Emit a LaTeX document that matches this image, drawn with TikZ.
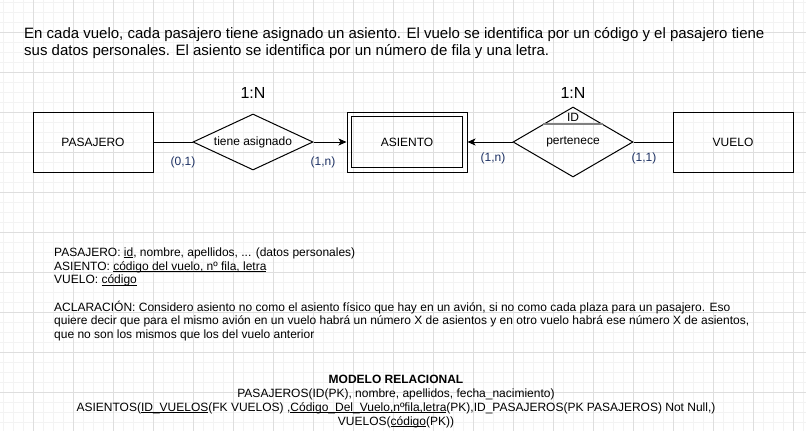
\documentclass[tikz,border=0pt]{standalone}
\usepackage{fontspec}
\setmainfont{Liberation Sans}
\newcommand{\undl}[1]{\setbox0\hbox{#1}\rlap{\rule[-1.8pt]{\wd0}{0.8pt}}\box0}
\usetikzlibrary{arrows.meta,shapes.geometric,calc}
\definecolor{gridmaj}{RGB}{222,222,222}
\definecolor{gridmin}{RGB}{243,243,243}
\definecolor{card}{RGB}{30,50,100}
\definecolor{idline}{RGB}{128,128,128}
\begin{document}
\begin{tikzpicture}[x=1pt,y=-1pt,
  entity/.style={draw,line width=1pt,minimum width=120pt,minimum height=60pt,inner sep=0pt,font=\fontsize{12}{14}\selectfont},
  rel/.style={draw,line width=1pt,diamond,aspect=2,inner sep=0pt,minimum width=120pt,font=\fontsize{12}{14}\selectfont},
  cardlbl/.style={text=card,inner sep=0pt,font=\fontsize{12}{14}\selectfont},
  ratio/.style={inner sep=0pt,font=\fontsize{16}{18}\selectfont},
  conn/.style={line width=1pt},
  arr/.style={conn,-{Stealth[length=8pt,width=7pt,inset=2pt]}},
  txt/.style={inner sep=0pt,align=left,anchor=base west}]
\useasboundingbox (0,0) rectangle (806,431);
\fill[white] (0,0) rectangle (806,431);
% grid
\foreach \x in {3,13,...,803}{\draw[gridmin,line width=1pt] (\x,0) -- (\x,431);}
\foreach \y in {2,12,...,432}{\draw[gridmin,line width=1pt] (0,\y) -- (806,\y);}
\foreach \x in {33,73,...,793}{\draw[gridmaj,line width=1pt] (\x,0) -- (\x,431);}
\foreach \y in {32,72,...,432}{\draw[gridmaj,line width=1pt] (0,\y) -- (806,\y);}

% intro text (anchor = baseline of last line)
\node[txt,font=\fontsize{15}{17}\selectfont] (intro) at (24,55.5)
 {En cada vuelo, cada pasajero tiene asignado un asiento. El vuelo se identifica por un código y el pasajero tiene\\
  sus datos personales. El asiento se identifica por un número de fila y una letra.};

% diagram
\node[entity] (pas) at (93,142) {PASAJERO};
\node[rel,minimum height=56pt] (tiene) at (253,142) {tiene asignado};
\node[entity] (asi) at (407,142) {ASIENTO};
\draw[line width=1pt] ($(asi.north west)+(5,5)$) rectangle ($(asi.south east)+(-5,-5)$);
\node[rel,minimum height=70pt] (pert) at (573,142) {pertenece};
\node[entity] (vue) at (733,142) {VUELO};

\draw[idline,line width=2pt] ($(pert.north)!0.49!(pert.west)$) -- ($(pert.north)!0.49!(pert.east)$);
\node[inner sep=0pt,font=\fontsize{12}{14}\selectfont] (idl) at ($(pert.north)+(0,10.5)$) {ID};

\draw[conn] (pas.east) -- (tiene.west);
\draw[arr] (tiene.east) -- (asi.west);
\draw[arr] (pert.west) -- (asi.east);
\draw[conn] (vue.west) -- (pert.east);

\node[ratio] (r1) at (253,93) {1:N};
\node[ratio] (r2) at (573,93) {1:N};
\node[cardlbl] (c1) at (183,162) {(0,1)};
\node[cardlbl] (c2) at (323,162) {(1,n)};
\node[cardlbl] (c3) at (493,158) {(1,n)};
\node[cardlbl] (c4) at (644,158) {(1,1)};

% attributes text (anchor = baseline of last line)
\node[txt,font=\fontsize{12}{13.7}\selectfont] (attrs) at (54,338.5)
 {PASAJERO: \undl{id}, nombre, apellidos, ... (datos personales)\\
  ASIENTO: \undl{código del vuelo, nº fila, letra}\\
  VUELO: \undl{código}\\[13.7pt]
  ACLARACIÓN: Considero asiento no como el asiento físico que hay en un avión, si no como cada plaza para un pasajero. Eso\\
  quiere decir que para el mismo avión en un vuelo habrá un número X de asientos y en otro vuelo habrá ese número X de asientos,\\
  que no son los mismos que los del vuelo anterior};

% relational model
\node[inner sep=0pt,align=center,anchor=base,font=\fontsize{12}{13.7}\selectfont] (rm) at (396,425)
 {\textbf{MODELO RELACIONAL}\\
  PASAJEROS(ID(PK), nombre, apellidos, fecha\_nacimiento)\\
  ASIENTOS(\undl{ID\_VUELOS}(FK VUELOS) ,\undl{Código\_Del\_Vuelo,nºfila,letra}(PK),ID\_PASAJEROS(PK PASAJEROS) Not Null,)\\
  VUELOS(\undl{código}(PK))};
\end{tikzpicture}
\end{document}
